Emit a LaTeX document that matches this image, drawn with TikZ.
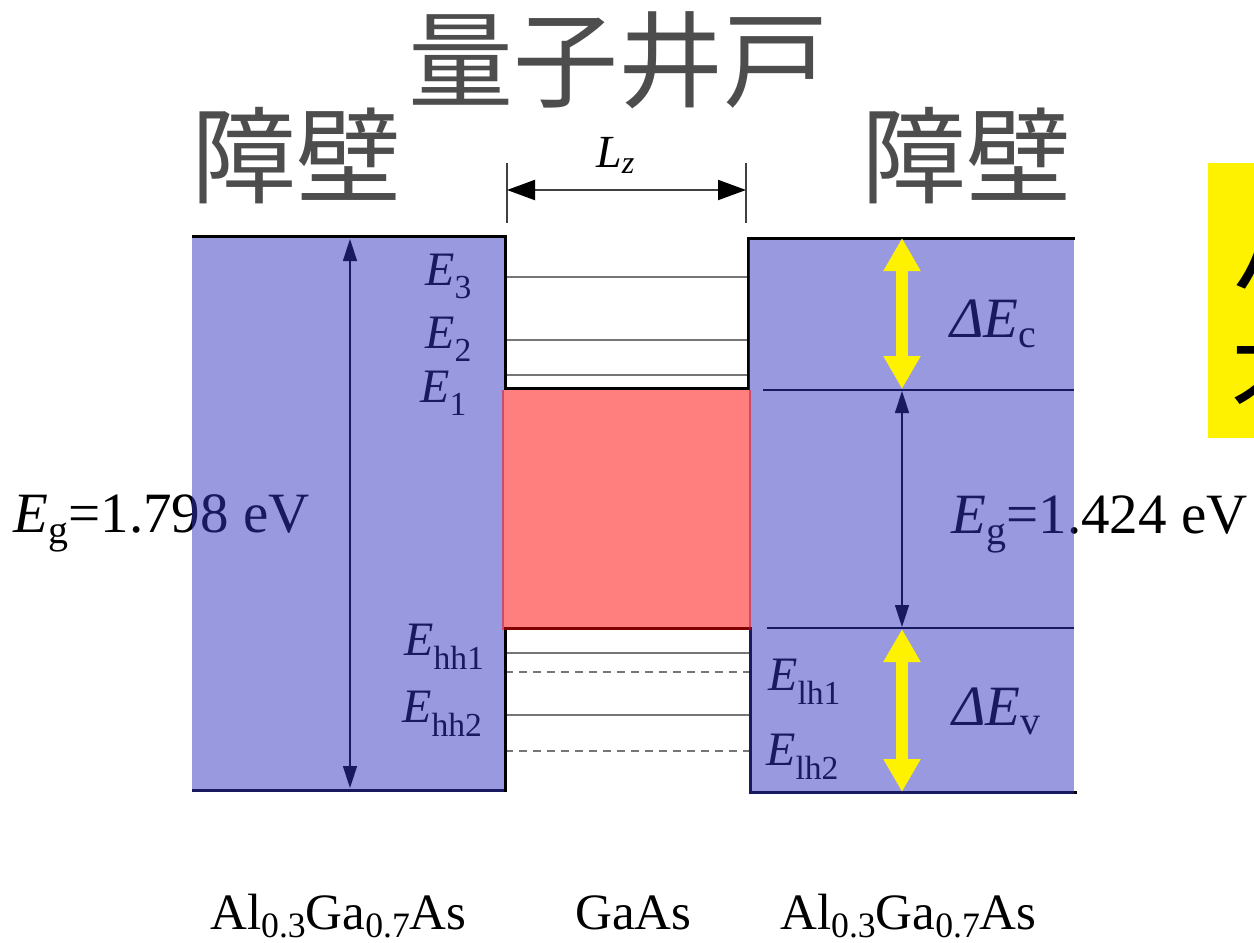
\documentclass[tikz,border=0pt]{standalone}
\usepackage{fontspec}
\setmainfont{Liberation Serif}
\newfontfamily\cjk{Noto Sans CJK JP}
\usetikzlibrary{arrows.meta}
\definecolor{barrierblue}{RGB}{51,51,193}
\definecolor{wellred}{RGB}{255,0,0}
\definecolor{titlegray}{RGB}{77,77,77}
\definecolor{levelgray}{RGB}{118,118,118}
\newcommand{\lvl}[2]{\textit{#1}\textsubscript{#2}}
\newcommand{\lowsub}[1]{\raisebox{-0.17em}{\fontsize{0.7em}{0.8em}\selectfont #1}}
\tikzstyle{barrier}=[fill=barrierblue, fill opacity=0.5]
\tikzstyle{well}=[fill=wellred, fill opacity=0.5]
\tikzstyle{bandedge}=[line width=3pt, line join=miter]
\tikzstyle{level}=[levelgray, line width=2pt]
\tikzstyle{lhlevel}=[level, dash pattern=on 8pt off 6pt]
\tikzstyle{gaparrow}=[line width=1.5pt, >={Triangle[length=22pt,width=14pt]}, <->]
\tikzstyle{offsetarrow}=[yellow, line width=12pt, >={Triangle[length=33pt,width=35pt]}, <->]
\tikzstyle{dimline}=[darkgray, line width=2pt]
\tikzstyle{dimarrow}=[dimline, >={Triangle[length=28pt,width=20pt,color=black]}, <->]
\tikzstyle{elabel}=[inner sep=0, anchor=base west, font=\fontsize{48}{56}\selectfont]
\tikzstyle{glabel}=[inner sep=0, anchor=base west, font=\fontsize{57}{64}\selectfont]
\tikzstyle{matlabel}=[inner sep=0, anchor=base west, font=\fontsize{51}{60}\selectfont]
\tikzstyle{title}=[inner sep=0, titlegray, font=\cjk\fontsize{105}{120}\selectfont]
\tikzstyle{notebox}=[inner sep=0, anchor=west, font=\cjk\fontsize{100}{110}\selectfont]

\begin{document}
\begin{tikzpicture}[x=1pt, y=-1pt]
        \useasboundingbox (0, 0) rectangle (1254, 943);
        % levels inside the well
        \draw[level]   (505, 277) -- (748, 277);
        \draw[level]   (505, 340) -- (748, 340);
        \draw[level]   (505, 375) -- (748, 375);
        \draw[level]   (505, 653) -- (750, 653);
        \draw[lhlevel] (505, 672) -- (750, 672);
        \draw[level]   (505, 715) -- (750, 715);
        \draw[lhlevel] (505, 751) -- (750, 751);
        % band edges
        \draw[bandedge] (192, 236) -- (505, 236) -- (505, 388) -- (748, 388) -- (748, 238) -- (1075, 238);
        \draw[bandedge] (192, 790) -- (505, 790) -- (505, 628) -- (750, 628) -- (750, 792) -- (1077, 792);
        \draw[line width=1.5pt] (763, 390) -- (1074, 390);
        \draw[line width=1.5pt] (767, 628) -- (1074, 628);
        \coordinate (L1top) at (350, 239);
        \coordinate (L1bot) at (350, 788);
        \coordinate (R1top) at (902, 391);
        \coordinate (R1bot) at (902, 627);
        \draw[gaparrow] (L1top) -- (L1bot);
        \draw[gaparrow] (R1top) -- (R1bot);
        \node[elabel] (E3)   at (425, 285) {\lvl{E}{3}};
        \node[elabel] (E2)   at (425, 348) {\lvl{E}{2}};
        \node[elabel] (E1)   at (420, 402) {\lvl{E}{1}};
        \node[elabel] (Ehh1) at (404, 655) {\lvl{E}{hh1}};
        \node[elabel] (Ehh2) at (402, 722) {\lvl{E}{hh2}};
        \node[elabel] (Elh1) at (768, 690) {\lvl{E}{lh1}};
        \node[elabel] (Elh2) at (766, 765) {\lvl{E}{lh2}};
        \node[glabel] (dEc)  at (950, 337) {\textit{Δ}\lvl{E}{c}};
        \node[glabel] (dEv)  at (952, 725) {\textit{Δ}\lvl{E}{v}};
        \node[glabel] (EgL)  at (13, 532)  {\lvl{E}{g}=1.798 eV};
        \node[glabel] (EgR)  at (951, 533) {\lvl{E}{g}=1.424 eV};
        % barriers and well
        \path[barrier] (192, 237.5) rectangle (504, 791.5);
        \path[barrier] (749, 239.5) rectangle (1074, 793.5);
        \path[well]    (502, 389.5) rectangle (751, 629.5);
        \coordinate (C1top) at (902, 238);
        \coordinate (C1bot) at (902, 389);
        \coordinate (V1top) at (902, 629);
        \coordinate (V1bot) at (902, 792);
        \draw[offsetarrow] (C1top) -- (C1bot);
        \draw[offsetarrow] (V1top) -- (V1bot);
        % well width
        \coordinate (LzL) at (507, 190);
        \coordinate (LzR) at (746, 190);
        \draw[dimline] (507, 163) -- (507, 223);
        \draw[dimline] (746, 163) -- (746, 223);
        \draw[dimarrow] (LzL) -- (LzR);
        \node[inner sep=0, anchor=base west, font=\fontsize{46}{52}\selectfont] (Lz) at (596, 167) {\textit{L}\textsubscript{\textit{z}}};
        \node[title] (well)     at (618, 60)  {量子井戸};
        \node[title] (barrierL) at (296, 156) {障壁};
        \node[title] (barrierR) at (966, 156) {障壁};
        \node[matlabel] (matL) at (210, 929) {Al\lowsub{0.3}Ga\lowsub{0.7}As};
        \node[matlabel] (matC) at (575, 929) {GaAs};
        \node[matlabel] (matR) at (780, 929) {Al\lowsub{0.3}Ga\lowsub{0.7}As};
        \begin{scope}
            \clip (0, 0) rectangle (1254, 943);
            \fill[yellow] (1208, 163) rectangle (1260, 438);
            \node[notebox] (note1) at (1230, 250) {バンド};
            \node[notebox] (note2) at (1230, 385) {不連続};
        \end{scope}
    \end{tikzpicture}
\end{document}
